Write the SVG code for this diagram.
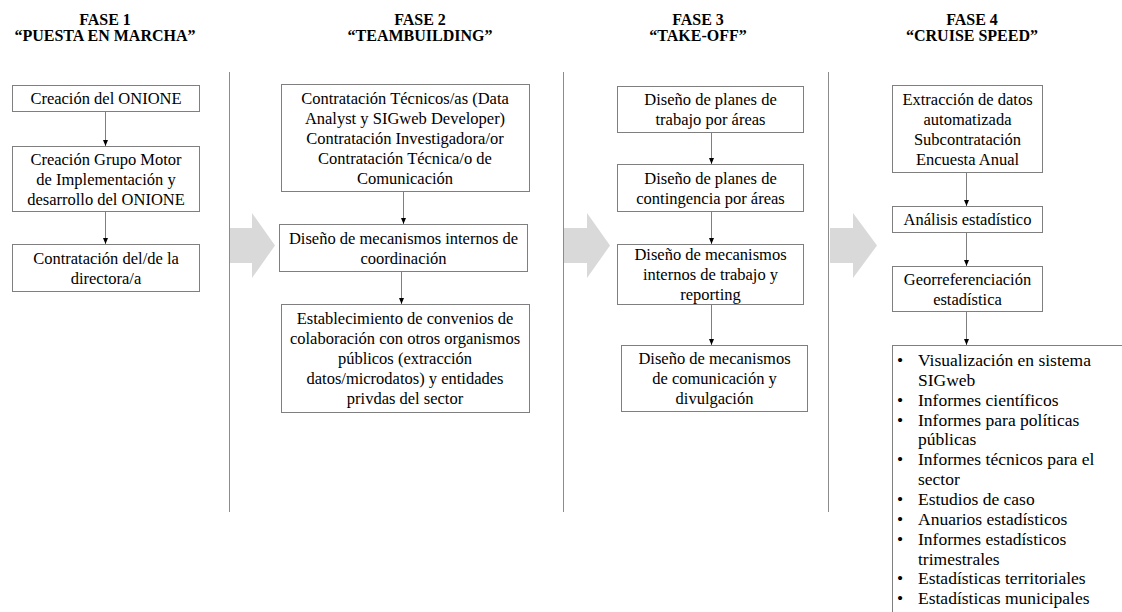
<svg xmlns="http://www.w3.org/2000/svg" width="1122" height="612" viewBox="0 0 1122 612" font-family="'Liberation Serif', 'Times New Roman', Tinos, 'DejaVu Serif', serif">
<style>
text{font-family:'Liberation Serif','Times New Roman',Tinos,'DejaVu Serif',serif;fill:#000;}
.h{font-size:16px;font-weight:bold;text-anchor:middle;}
.t{font-size:16.5px;text-anchor:middle;}
.l text{font-size:17.5px;}
.box{fill:#fff;stroke:#7f7f7f;stroke-width:1;}
.div{stroke:#8c8c8c;stroke-width:1;fill:none;}
.con{stroke:#7f7f7f;stroke-width:1;fill:none;marker-end:url(#ah);}
.big{fill:#d9d9d9;stroke:none;}
</style>
<defs>
<marker id="ah" viewBox="0 0 6 6" refX="6" refY="3" markerWidth="6" markerHeight="6" markerUnits="userSpaceOnUse" orient="auto">
<path d="M0,0.5 L6,3 L0,5.5 Z" fill="#000"/>
</marker>
</defs>
<rect x="0" y="0" width="1122" height="612" fill="#fff"/>

<g id="headers">
<text class="h" x="105" y="25">FASE 1</text>
<text class="h" x="105" y="41">“PUESTA EN MARCHA”</text>
<text class="h" x="420" y="25">FASE 2</text>
<text class="h" x="420" y="41">“TEAMBUILDING”</text>
<text class="h" x="698" y="25">FASE 3</text>
<text class="h" x="698" y="41">“TAKE-OFF”</text>
<text class="h" x="972" y="25">FASE 4</text>
<text class="h" x="972" y="41">“CRUISE SPEED”</text>
</g>

<g id="dividers">
<line class="div" x1="229.5" y1="72" x2="229.5" y2="512"/>
<line class="div" x1="563.5" y1="72" x2="563.5" y2="512"/>
<line class="div" x1="828.5" y1="72" x2="828.5" y2="512"/>
</g>

<g id="phase-arrows">
<polygon class="big" points="230,228 252,228 252,213 275,245.5 252,278 252,263 230,263"/>
<polygon class="big" points="564,228 587,228 587,213 610,245.5 587,278 587,263 564,263"/>
<polygon class="big" points="830,228 853,228 853,213 877,245.5 853,278 853,263 830,263"/>
</g>

<g id="connectors">
<line class="con" x1="105.5" y1="112" x2="105.5" y2="146"/>
<line class="con" x1="105.5" y1="212" x2="105.5" y2="244"/>
<line class="con" x1="403.5" y1="192" x2="403.5" y2="224"/>
<line class="con" x1="401.5" y1="272" x2="401.5" y2="304"/>
<line class="con" x1="711.5" y1="133" x2="711.5" y2="164"/>
<line class="con" x1="711.5" y1="212" x2="711.5" y2="244"/>
<line class="con" x1="711.5" y1="305" x2="711.5" y2="345"/>
<line class="con" x1="966.5" y1="173" x2="966.5" y2="206"/>
<line class="con" x1="966.5" y1="233" x2="966.5" y2="266"/>
<line class="con" x1="966.5" y1="312" x2="966.5" y2="345"/>
</g>

<g id="f1-creacion">
<rect class="box" x="12.5" y="85.5" width="187" height="26"/>
<text class="t" x="106" y="104">Creación del ONIONE</text>
</g>
<g id="f1-grupo-motor">
<rect class="box" x="12.5" y="146.5" width="187" height="65"/>
<text class="t" x="106" y="164.5">Creación Grupo Motor</text>
<text class="t" x="106" y="184.5">de Implementación y</text>
<text class="t" x="106" y="204.5">desarrollo del ONIONE</text>
</g>
<g id="f1-directora">
<rect class="box" x="12.5" y="244.5" width="187" height="47"/>
<text class="t" x="106" y="263.5">Contratación del/de la</text>
<text class="t" x="106" y="283.5">directora/a</text>
</g>

<g id="f2-contratacion">
<rect class="box" x="281.5" y="84.5" width="248" height="107"/>
<text class="t" x="405" y="103.5">Contratación Técnicos/as (Data</text>
<text class="t" x="405" y="123.5">Analyst y SIGweb Developer)</text>
<text class="t" x="405" y="143.5">Contratación Investigadora/or</text>
<text class="t" x="405" y="163.5">Contratación Técnica/o de</text>
<text class="t" x="405" y="183.5">Comunicación</text>
</g>
<g id="f2-coordinacion">
<rect class="box" x="279.5" y="224.5" width="248" height="47"/>
<text class="t" x="403.5" y="243.5">Diseño de mecanismos internos de</text>
<text class="t" x="403.5" y="263.5">coordinación</text>
</g>
<g id="f2-convenios">
<rect class="box" x="281.5" y="304.5" width="248" height="108"/>
<text class="t" x="405" y="324">Establecimiento de convenios de</text>
<text class="t" x="405" y="344">colaboración con otros organismos</text>
<text class="t" x="405" y="364">públicos (extracción</text>
<text class="t" x="405" y="384">datos/microdatos) y entidades</text>
<text class="t" x="405" y="404">privdas del sector</text>
</g>

<g id="f3-planes-trabajo">
<rect class="box" x="617.5" y="86.5" width="186" height="46"/>
<text class="t" x="710.5" y="105">Diseño de planes de</text>
<text class="t" x="710.5" y="125">trabajo por áreas</text>
</g>
<g id="f3-contingencia">
<rect class="box" x="617.5" y="164.5" width="186" height="47"/>
<text class="t" x="710.5" y="183.5">Diseño de planes de</text>
<text class="t" x="710.5" y="203.5">contingencia por áreas</text>
</g>
<g id="f3-reporting">
<rect class="box" x="617.5" y="244.5" width="186" height="60"/>
<text class="t" x="710.5" y="260">Diseño de mecanismos</text>
<text class="t" x="710.5" y="280">internos de trabajo y</text>
<text class="t" x="710.5" y="300">reporting</text>
</g>
<g id="f3-comunicacion">
<rect class="box" x="621.5" y="345.5" width="186" height="66"/>
<text class="t" x="714.5" y="364">Diseño de mecanismos</text>
<text class="t" x="714.5" y="384">de comunicación y</text>
<text class="t" x="714.5" y="404">divulgación</text>
</g>

<g id="f4-extraccion">
<rect class="box" x="892.5" y="85.5" width="150" height="87"/>
<text class="t" x="967.5" y="104.5">Extracción de datos</text>
<text class="t" x="967.5" y="124.5">automatizada</text>
<text class="t" x="967.5" y="144.5">Subcontratación</text>
<text class="t" x="967.5" y="164.5">Encuesta Anual</text>
</g>
<g id="f4-analisis">
<rect class="box" x="892.5" y="206.5" width="150" height="26"/>
<text class="t" x="967.5" y="225">Análisis estadístico</text>
</g>
<g id="f4-georref">
<rect class="box" x="892.5" y="266.5" width="150" height="45"/>
<text class="t" x="967.5" y="284.5">Georreferenciación</text>
<text class="t" x="967.5" y="304.5">estadística</text>
</g>
<g id="f4-productos">
<rect class="box" x="892.5" y="345.5" width="240" height="280"/>
<g class="l">
<text x="897" y="366">•</text><text x="918" y="366">Visualización en sistema</text>
<text x="918" y="385.9">SIGweb</text>
<text x="897" y="405.7">•</text><text x="918" y="405.7">Informes científicos</text>
<text x="897" y="425.6">•</text><text x="918" y="425.6">Informes para políticas</text>
<text x="918" y="445.4">públicas</text>
<text x="897" y="465.3">•</text><text x="918" y="465.3">Informes técnicos para el</text>
<text x="918" y="485.1">sector</text>
<text x="897" y="505">•</text><text x="918" y="505">Estudios de caso</text>
<text x="897" y="524.8">•</text><text x="918" y="524.8">Anuarios estadísticos</text>
<text x="897" y="544.7">•</text><text x="918" y="544.7">Informes estadísticos</text>
<text x="918" y="564.5">trimestrales</text>
<text x="897" y="584.4">•</text><text x="918" y="584.4">Estadísticas territoriales</text>
<text x="897" y="604.2">•</text><text x="918" y="604.2">Estadísticas municipales</text>
</g>
</g>
</svg>
